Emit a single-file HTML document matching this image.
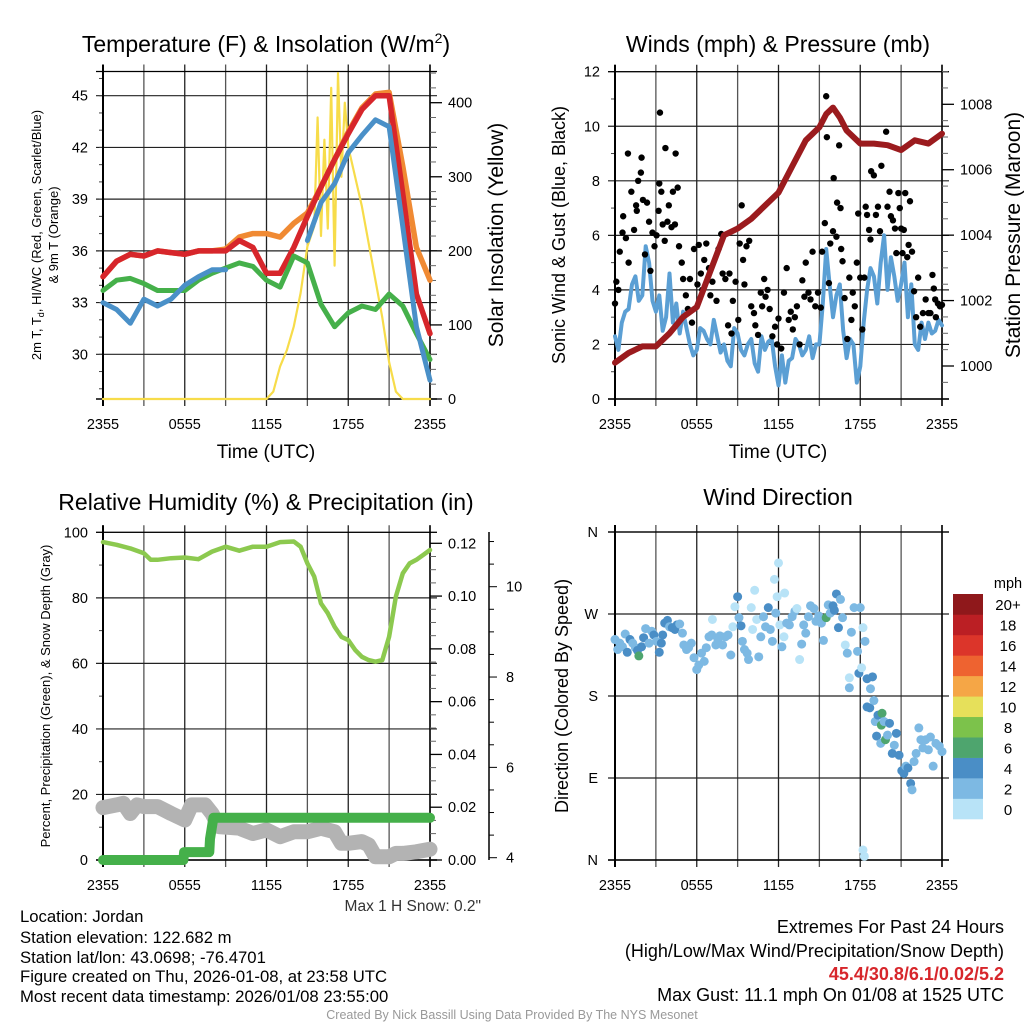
<!DOCTYPE html>
<html><head><meta charset="utf-8"><style>
html,body{margin:0;padding:0;background:#fff}
svg{display:block;font-family:"Liberation Sans",sans-serif}
</style></head><body>
<svg id="fig" width="1024" height="1024" viewBox="0 0 1024 1024" xmlns="http://www.w3.org/2000/svg">
<rect width="1024" height="1024" fill="#fff"/>
<g id="layer"></g>
<text x="266" y="52" font-size="23" text-anchor="middle">Temperature (F) &amp; Insolation (W/m<tspan font-size="14" dy="-9">2</tspan><tspan dy="9">)</tspan></text>
<text x="778" y="52" font-size="23" text-anchor="middle">Winds (mph) &amp; Pressure (mb)</text>
<text x="266" y="510" font-size="23" text-anchor="middle">Relative Humidity (%) &amp; Precipitation (in)</text>
<text x="778" y="505" font-size="23" text-anchor="middle">Wind Direction</text>
<text x="266" y="458" font-size="19" text-anchor="middle">Time (UTC)</text>
<text x="778" y="458" font-size="19" text-anchor="middle">Time (UTC)</text>
<text transform="translate(41,235) rotate(-90)" font-size="13" text-anchor="middle">2m T, T<tspan font-size="9" dy="3">d</tspan><tspan dy="-3">, HI/WC (Red, Green, Scarlet/Blue)</tspan></text>
<text transform="translate(58,235) rotate(-90)" font-size="13" text-anchor="middle">&amp; 9m T (Orange)</text>
<text transform="translate(503,235) rotate(-90)" font-size="21" text-anchor="middle">Solar Insolation (Yellow)</text>
<text transform="translate(565,235) rotate(-90)" font-size="18" text-anchor="middle">Sonic Wind &amp; Gust (Blue, Black)</text>
<text transform="translate(1020,235) rotate(-90)" font-size="21" text-anchor="middle">Station Pressure (Maroon)</text>
<text transform="translate(50,696) rotate(-90)" font-size="13" text-anchor="middle">Percent, Precipitation (Green), &amp; Snow Depth (Gray)</text>
<text transform="translate(568,696) rotate(-90)" font-size="18" text-anchor="middle">Direction (Colored By Speed)</text>
<text x="481" y="911" font-size="15.5" text-anchor="end" fill="#333">Max 1 H Snow: 0.2"</text>
<g font-size="16.7">
<text x="20" y="922">Location: Jordan</text>
<text x="20" y="943">Station elevation: 122.682 m</text>
<text x="20" y="963">Station lat/lon: 43.0698; -76.4701</text>
<text x="20" y="982">Figure created on Thu, 2026-01-08, at 23:58 UTC</text>
<text x="20" y="1002">Most recent data timestamp: 2026/01/08 23:55:00</text>
</g>
<g font-size="18" text-anchor="end">
<text x="1004" y="933">Extremes For Past 24 Hours</text>
<text x="1004" y="957">(High/Low/Max Wind/Precipitation/Snow Depth)</text>
<text x="1004" y="980" fill="#d7262b" font-weight="bold">45.4/30.8/6.1/0.02/5.2</text>
<text x="1004" y="1001">Max Gust: 11.1 mph On 01/08 at 1525 UTC</text>
</g>
<text x="512" y="1019" font-size="12.5" text-anchor="middle" fill="#999">Created By Nick Bassill Using Data Provided By The NYS Mesonet</text>
</svg>
<script>
// ---- Temperature panel data ----
const tHours=[0,1,2,3,4,5,6,7,8,9,10,11,12,13,14,15,16,17,18,19,20,21,22,23,24];
const tempRed=[34.5,35.4,35.8,35.7,36.0,35.9,35.8,36.0,36.0,36.0,36.6,36.2,34.7,34.7,36.2,38.0,39.7,41.3,42.8,44.2,45.0,45.0,39.3,33.5,31.2];
const temp9m=[34.5,35.4,35.8,35.7,36.0,35.9,35.8,36.0,36.0,36.1,36.8,37.0,37.0,36.8,37.6,38.2,39.7,41.3,42.9,44.3,45.1,45.2,40.9,36.2,34.3];
const dewGreen=[33.7,34.3,34.4,34.1,33.7,33.7,33.7,34.3,34.7,35.0,35.3,35.1,34.3,33.9,35.7,35.3,32.9,31.6,32.4,32.8,32.6,33.5,32.8,31.2,29.7];
const windChill=[33.0,32.6,31.8,33.2,32.8,33.2,34.0,34.5,34.9,34.9,null,null,null,null,null,36.6,38.8,39.9,41.7,42.7,43.6,43.2,37.4,31.6,28.5];
const solarHours=[0,12,12.5,13,13.5,14,14.5,15,15.5,15.75,16,16.25,16.5,16.75,17,17.25,17.5,17.75,18,18.5,19,19.5,20,20.5,21,21.5,22,24];
const solarVals=[0,0,10,44,66,98,143,206,233,380,220,350,230,420,180,440,300,400,340,300,260,210,160,110,50,10,0,0];
const tempTicks=[30,33,36,39,42,45];
const solarTicks=[0,100,200,300,400];
const timeLabels=["2355","0555","1155","1755","2355"];
// ---- Wind panel data ----
const pHours=[0,1,2,3,4,5,6,7,8,9,10,11,12,13,14,15,15.5,16,16.5,17,18,19,20,21,22,23,24];
const pressure=[1000.1,1000.4,1000.6,1000.6,1001.0,1001.5,1001.8,1002.9,1004.0,1004.2,1004.5,1004.9,1005.3,1006.1,1006.9,1007.3,1007.7,1007.9,1007.6,1007.2,1006.8,1006.8,1006.75,1006.6,1006.9,1006.8,1007.1];
const wHours=[0,0.25,0.5,0.75,1,1.25,1.5,1.75,2,2.25,2.5,2.75,3,3.25,3.5,3.75,4,4.25,4.5,4.75,5,5.25,5.5,5.75,6,6.25,6.5,6.75,7,7.25,7.5,7.75,8,8.25,8.5,8.75,9,9.25,9.5,9.75,10,10.25,10.5,10.75,11,11.25,11.5,11.75,12,12.25,12.5,12.75,13,13.25,13.5,13.75,14,14.25,14.5,14.75,15,15.25,15.5,15.75,16,16.25,16.5,16.75,17,17.25,17.5,17.75,18,18.25,18.5,18.75,19,19.25,19.5,19.75,20,20.25,20.5,20.75,21,21.25,21.5,21.75,22,22.25,22.5,22.75,23,23.25,23.5,23.75,24];
const sonicWind=[2.3,1.8,2.8,3.2,3.3,4.2,4.5,3.6,3.8,5.6,5.0,3.6,3.2,3.8,2.5,3.0,4.6,2.8,3.5,2.4,3.2,2.6,2.0,1.6,1.8,2.6,2.5,2.2,2.0,2.9,2.3,1.7,2.0,1.4,1.2,2.6,2.4,1.8,1.6,2.0,2.2,1.3,1.0,2.3,1.8,2.1,2.2,1.2,0.5,1.6,0.6,1.4,1.5,2.2,2.0,1.6,1.8,2.3,1.5,2.0,2.0,3.5,5.5,4.2,3.0,3.8,4.2,2.5,1.5,2.2,2.0,0.6,1.2,2.8,4.0,4.8,4.5,3.5,5.0,6.0,4.0,5.2,4.5,3.6,4.2,5.0,3.0,4.2,2.0,1.8,2.8,2.2,2.8,2.4,2.5,2.9,2.7];
const gustHours=[0,0.1,0.25,0.35,0.55,0.6,0.8,0.95,1.0,1.2,1.4,1.55,1.6,1.7,1.9,1.95,2.05,2.2,2.35,2.5,2.6,2.75,2.9,3.05,3.2,3.25,3.3,3.4,3.5,3.65,3.7,3.85,3.95,4.15,4.25,4.4,4.45,4.6,4.7,4.9,5.0,5.2,5.35,5.5,5.65,5.8,6.05,6.15,6.3,6.4,6.55,6.7,6.9,7.0,7.15,7.45,7.6,7.8,7.9,8.1,8.3,8.4,8.55,8.65,8.85,9.05,9.15,9.3,9.4,9.5,9.65,9.85,10.0,10.2,10.3,10.5,10.7,10.8,10.95,11.05,11.2,11.35,11.55,11.75,11.9,12.0,12.2,12.4,12.6,12.75,12.9,13.05,13.2,13.35,13.55,13.75,13.9,14.0,14.2,14.35,14.5,14.7,14.9,15.1,15.2,15.4,15.5,15.55,15.7,15.8,16.0,16.05,16.25,16.3,16.45,16.55,16.6,16.7,16.85,17.05,17.2,17.35,17.45,17.6,17.75,17.85,18.0,18.15,18.3,18.4,18.5,18.65,18.75,18.8,19.0,19.15,19.3,19.45,19.55,19.9,20.0,20.15,20.25,20.4,20.55,20.65,20.8,20.9,21.0,21.1,21.2,21.3,21.45,21.55,21.65,21.8,21.95,22.1,22.25,22.4,22.6,22.8,23.0,23.15,23.3,23.4,23.5,23.55,23.7,23.85,24];
const gustVals=[3.5,4.3,4.0,5.4,6.1,6.7,5.9,9.0,5.0,7.6,6.2,7.1,6.9,8.0,8.3,8.85,7.3,5.3,7.2,6.5,4.7,6.1,5.6,6.0,6.9,7.9,10.5,7.6,6.4,5.8,9.2,6.5,7.1,6.3,7.6,6.4,9.0,7.75,5.6,5.0,4.4,3.8,3.3,4.4,2.8,5.5,4.2,5.65,4.6,4.0,5.1,5.7,4.8,3.8,4.3,3.6,5.5,6.05,4.6,4.4,2.7,4.6,2.4,3.6,4.3,2.9,5.7,7.1,5.1,4.2,5.6,5.8,3.4,3.15,2.7,2.35,3.9,3.4,4.4,3.75,4.0,3.3,2.3,2.65,2.0,2.95,1.85,3.9,4.8,2.9,3.2,2.55,3.0,3.4,2.0,4.35,3.75,5.0,3.9,3.65,5.4,3.4,3.9,3.35,5.4,6.45,11.1,9.6,4.25,5.7,6.15,8.1,5.95,7.2,9.3,7.0,5.5,5.05,3.7,2.2,4.45,2.9,3.9,3.4,5.0,6.8,4.45,2.55,4.45,7.05,6.75,6.2,5.85,8.35,8.2,6.75,7.05,6.15,8.55,9.8,7.05,7.6,6.7,6.55,6.25,5.35,7.55,7.0,6.25,5.35,6.2,7.55,5.2,5.65,7.25,5.4,3.95,3.0,4.45,2.65,3.15,3.65,3.15,3.15,4.55,4.05,3.65,3.0,3.5,3.4,3.45];
const windTicks=[0,2,4,6,8,10,12];
const pressureTicks=[1000,1002,1004,1006,1008];
// ---- RH panel data ----
const rhHours=[0,1,2,3,3.5,4,5,6,7,8,9,10,11,12,13,14,14.5,15,15.5,16,16.5,17,17.5,18,18.5,19,19.5,20,20.5,21,21.5,22,22.5,23,23.5,24];
const rhVals=[97,96.2,95.1,93.6,91.6,91.6,92.1,92.3,91.8,94.1,95.6,94.4,95.6,95.6,97,97.2,95.6,90.5,86.5,78.3,75.3,71.2,68.1,67.1,64.1,62.0,61.0,60.5,61.0,68.1,80.4,87.5,90.5,91.6,93.1,94.6];
const precipHours=[0,5.9,5.95,7.8,7.85,8.1,24];
const precipVals=[0,0,0.003,0.003,0.008,0.016,0.016];
const snowHours=[0,1,1.5,2,2.5,3,4,5,6,6.5,7.5,8,8.5,10,11,12,13,14,15,16,17,17.5,18,19,19.5,20,21,21.5,22,23,24];
const snowVals=[16,16.8,17.3,14.2,16.8,16.3,16.3,14.2,12.2,16.8,16.8,14.2,10.2,9.7,8.1,9.2,7.1,8.6,8.6,9.7,8.6,5.1,5.1,5.6,4.6,1.0,1.0,2.0,2.0,2.5,3.3];
const rhTicks=[0,20,40,60,80,100];
const precipTicks=[0,0.02,0.04,0.06,0.08,0.10,0.12];
const snowTicks=[4,6,8,10];
// ---- Wind direction data ----
const dirHours=[0,0.2,0.35,0.55,0.75,0.9,1.1,1.3,1.5,1.65,1.75,1.95,2.1,2.25,2.5,2.7,2.85,3.05,3.25,3.4,3.5,3.65,3.85,4.0,4.2,4.4,4.55,4.75,4.95,5.05,5.25,5.4,5.6,5.8,6.0,6.15,6.35,6.55,6.7,6.9,7.1,7.15,7.4,7.55,7.7,7.9,8.1,8.3,8.5,8.65,8.8,9.0,9.1,9.25,9.35,9.5,9.7,9.8,10.0,10.1,10.25,10.4,10.55,10.7,10.9,11.05,11.25,11.4,11.55,11.7,11.8,11.9,12.0,12.1,12.25,12.4,12.45,12.6,12.8,13.0,13.2,13.35,13.55,13.7,13.85,14.0,14.2,14.35,14.6,14.75,14.95,15.15,15.3,15.5,15.65,15.8,16.0,16.1,16.25,16.4,16.55,16.7,16.9,17.05,17.2,17.2,17.35,17.55,17.8,17.9,18.0,18.1,18.2,18.35,18.5,18.5,18.7,18.75,18.9,19.0,19.1,19.2,19.3,19.5,19.6,19.55,19.75,19.85,20.0,20.15,20.35,20.5,20.65,20.85,21.05,21.2,21.35,21.5,21.7,21.8,21.95,22.1,22.3,22.45,22.6,22.8,23.0,23.15,23.35,23.55,23.8,24.0,18.2,18.3];
const dirDeg=[242,231,238,234,248,228,242,238,233,230,224,234,244,254,238,251,247,240,228,238,247,260,263,256,255,253,258,259,249,236,231,233,238,222,209,214,227,218,233,245,247,264,236,242,246,236,245,247,225,256,278,289,266,257,240,231,227,220,277,253,296,264,223,245,267,256,277,253,240,308,271,289,326,258,234,245,293,260,258,267,273,276,220,237,258,249,267,279,276,262,268,260,241,266,280,271,279,274,292,255,286,266,236,227,200,189,250,277,229,205,277,211,255,240,199,168,167,188,201,175,152,136,159,128,161,148,152,132,137,150,117,126,139,115,98,95,103,101,84,77,108,117,145,132,123,132,121,135,103,128,125,119,11,4];
const dirSpeed=[3,3,3,3,3,5,5,3,3,5,7,5,5,3,3,3,5,3,5,5,5,5,5,3,5,5,5,3,3,3,3,3,3,3,3,3,3,3,3,3,3,1,3,3,3,3,3,3,3,1,1,5,3,5,3,3,3,3,1,1,1,1,3,3,3,3,5,3,3,1,3,1,1,1,3,1,1,3,3,3,3,1,1,3,3,3,3,3,3,3,3,3,3,7,3,3,5,5,5,5,3,3,1,3,1,3,3,3,3,5,3,1,1,3,5,5,5,3,5,3,3,5,5,3,7,7,3,7,3,5,5,3,5,5,5,5,3,5,5,3,3,3,3,3,3,3,3,3,3,3,3,3,1,1];
const dirLabels=["N","E","S","W","N"];
const cbLabels=["0","2","4","6","8","10","12","14","16","18","20+"];
const cbColors=["#b8e3f7","#7db9e3","#4a8ec6","#4ea56e","#7cc24b","#e6e05a","#f5a646","#ee6330","#dc352a","#bb1f24","#8f181b"];

const NS="http://www.w3.org/2000/svg";
const layer=document.getElementById('layer');
function mk(tag,attrs,parent){const e=document.createElementNS(NS,tag);for(const k in attrs)e.setAttribute(k,attrs[k]);(parent||layer).appendChild(e);return e;}
function lin(d0,d1,r0,r1){return v=>r0+(v-d0)*(r1-r0)/(d1-d0);}

function frame(name,x0,x1,yTop,yBot,hGridVals,yScale,minorVals){
  const g=mk('g',{});
  
  
  const xs=lin(0,24,x0,x1);
  for(let h=0;h<=24;h+=3){
    const x=xs(h);
    const l=mk('line',{x1:x,x2:x,y1:yTop-7,y2:yBot+7,stroke:(h%6===0)?'#222':'#555','stroke-width':1.3},g);
    
    
  }
  hGridVals.forEach(v=>{const y=yScale(v);
    const l=mk('line',{x1:x0-7,x2:x1+7,y1:y,y2:y,stroke:'#222','stroke-width':1.2},g);
    
    
  });
  (minorVals||[]).forEach(v=>{const y=yScale(v);
    const l=mk('line',{x1:x0-4,x2:x0,y1:y,y2:y,stroke:'#444','stroke-width':1},g);
    
    
  });
  mk('line',{x1:x0-7,x2:x1+7,y1:yTop,y2:yTop,stroke:'#000','stroke-width':1.2},g);
  mk('line',{x1:x0,x2:x0,y1:yTop-7,y2:yBot+7,stroke:'#000','stroke-width':2},g);
  mk('line',{x1:x0-7,x2:x1+7,y1:yBot,y2:yBot,stroke:'#000','stroke-width':1.5},g);
  mk('line',{x1:x1,x2:x1,y1:yTop-7,y2:yBot+7,stroke:'#000','stroke-width':1.5},g);
  timeLabels.forEach((t,i)=>{
    const tx=mk('text',{x:xs(i*6),y:yBot+30,'font-size':14.5,'text-anchor':'middle'},g);
    
    
    tx.textContent=t;
  });
  return xs;
}
function rightTicks(x,ticks,ys,fmt,name,minors,tickLen){
  const g=mk('g',{});
  
  
  ticks.forEach(v=>{const y=ys(v);
    mk('line',{x1:x,x2:x+(tickLen||12),y1:y,y2:y,stroke:'#000','stroke-width':1.3},g);
    const t=mk('text',{x:x+18,y:y+5,'font-size':14.5},g);
    
    
    t.textContent=fmt(v);
  });
  (minors||[]).forEach(v=>{const y=ys(v);mk('line',{x1:x,x2:x+6,y1:y,y2:y,stroke:'#666','stroke-width':1},g);});
}
function leftLabels(x,ticks,ys,fmt){
  ticks.forEach((v,i)=>{
    const t=mk('text',{x:x,y:ys(v)+5,'font-size':14.5,'text-anchor':'end'});
    
    
    t.textContent=fmt(v,i);
  });
}
function path(hs,vs,xs,ys,color,w,name){
  let d='',pen=false;
  hs.forEach((h,i)=>{const v=vs[i];if(v===null||v===undefined){pen=false;return;}
    d+=(pen?'L':'M')+xs(h).toFixed(1)+' '+ys(v).toFixed(1);pen=true;});
  const p=mk('path',{d:d,fill:'none',stroke:color,'stroke-width':w,'stroke-linejoin':'round','stroke-linecap':'round'});
  
  
  return p;
}
function range(a,b,s){const r=[];for(let v=a;v<=b+1e-9;v+=s)r.push(+v.toFixed(4));return r;}

// ===== Panel 1: temperature =====
{
  const ys=lin(45,30,95.7,354.3);
  const xs=frame('temp',103,430,71.5,399,tempTicks,ys,range(28,46,1));
  const ss=lin(0,400,399,102.7);
  rightTicks(430,solarTicks,ss,v=>String(v),'solar-axis',range(20,440,20).filter(v=>v%100));
  leftLabels(88,tempTicks,ys,v=>String(v));
  path(solarHours,solarVals,xs,ss,'#f7dc4a',2.2,'solar-insolation-line');
  path(tHours,temp9m,xs,ys,'#f08a33',5.5,'temp-9m-line');
  path(tHours,tempRed,xs,ys,'#d7262b',5.5,'temp-2m-line');
  path(tHours,dewGreen,xs,ys,'#45b04a',5,'dewpoint-line');
  path(tHours,windChill,xs,ys,'#4a90c8',5,'windchill-line');
}
// ===== Panel 2: wind & pressure =====
{
  const ys=lin(0,12,399,71.7);
  const xs=frame('wind',615,942,71.7,399,windTicks,ys,range(1,11,2));
  const ps=lin(1000,1008,366,104.3);
  rightTicks(942,pressureTicks,ps,v=>String(v),'pressure-axis',range(999.5,1009,0.5).filter(v=>v%2));
  leftLabels(600,windTicks,ys,v=>String(v));
  path(wHours,sonicWind,xs,ys,'#5b9fd4',4,'sonic-wind-line');
  gustHours.forEach((h,i)=>{
    const c=mk('circle',{cx:xs(h),cy:ys(gustVals[i]),r:3.2,fill:'#000'});
    
    
  });
  path(pHours,pressure,xs,ps,'#9b1b1e',6,'pressure-line');
}
// ===== Panel 3: RH & precip =====
{
  const ys=lin(0,100,860,532.3);
  const xs=frame('rh',103,430,532.3,860,rhTicks,ys,range(10,90,20));
  const pr=lin(0,0.12,860,543.3);
  rightTicks(430,precipTicks,pr,v=>v.toFixed(2),'precip-axis',range(0.005,0.12,0.005).filter((v,i)=>i%4!==3));
  const sn=lin(4,10,857.7,586.7);
  const g=mk('g',{});
  
  
  mk('line',{x1:489,x2:489,y1:532,y2:860,stroke:'#000','stroke-width':1.5},g);
  range(4,11,0.5).forEach(v=>{const y=sn(v);if(y<532)return;mk('line',{x1:489,x2:489+(v%2===0?8:5),y1:y,y2:y,stroke:'#000','stroke-width':1},g);});
  snowTicks.forEach(v=>{const t=mk('text',{x:506,y:sn(v)+5,'font-size':14.5},g);t.textContent=String(v);});
  leftLabels(88,rhTicks,ys,v=>String(v));
  path(snowHours,snowVals,xs,ys,'#b3b3b3',15,'snow-depth-line');
  path(precipHours,precipVals,xs,pr,'#45b04a',10,'precip-line');
  path(rhHours,rhVals,xs,ys,'#8cc94f',4.5,'rh-line');
}
// ===== Panel 4: wind direction =====
{
  const ys=lin(0,360,860,532);
  const xs=frame('dir',615,942,532,860,[0,90,180,270,360],ys,[]);
  leftLabels(598,[0,90,180,270,360],ys,(v,i)=>dirLabels[i]);
  const colorFor=s=>cbColors[Math.min(10,Math.floor(s/2))];
  dirHours.forEach((h,i)=>{
    const c=mk('circle',{cx:xs(h),cy:ys(dirDeg[i]),r:4.5,fill:colorFor(dirSpeed[i])});
    
    
  });
  const g=mk('g',{});
  
  
  const bh=225/11;
  cbColors.forEach((col,i)=>{
    const y=819-(i+1)*bh;
    mk('rect',{x:953,y:y,width:30,height:bh+0.3,fill:col},g);
    const t=mk('text',{x:1008,y:y+bh/2+6,'font-size':15,'text-anchor':'middle'},g);
    t.textContent=cbLabels[i];
  });
  const m=mk('text',{x:1008,y:588,'font-size':14.5,'text-anchor':'middle'},g);
  m.textContent='mph';
}
</script>
</body></html>
